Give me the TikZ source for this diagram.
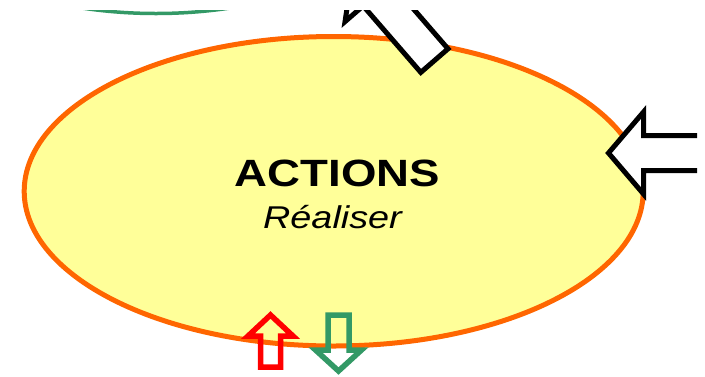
\documentclass[tikz,border=0pt]{standalone}
\usepackage{fontspec}
\setmainfont{Liberation Sans}
\definecolor{cyclefill}{HTML}{FFFF99}
\definecolor{cycleline}{HTML}{FF6600}
\definecolor{arrowred}{HTML}{FF0000}
\definecolor{arrowgreen}{HTML}{339966}
\begin{document}
\begin{tikzpicture}[x=1pt,y=-1pt,
  stage/.style={fill=cyclefill, draw=cycleline, line width=5pt},
  otherstage/.style={draw=arrowgreen, line width=3.5pt},
  blockarrow/.style={draw=black, fill=white, line width=5pt, line join=miter},
  inarrow/.style={draw=arrowred, line width=5.5pt, line join=miter},
  outarrow/.style={draw=arrowgreen, line width=5.5pt, line join=miter},
  title/.style={anchor=base, inner sep=0pt, font=\bfseries\fontsize{38}{40}\selectfont},
  subtitle/.style={anchor=base, inner sep=0pt, font=\itshape\fontsize{31.5}{34}\selectfont}]
\useasboundingbox (0,0) rectangle (705,376);
\begin{scope}
\clip (0,10) rectangle (697,376);
% neighbouring stage, only its lower rim shows
\draw[otherstage] (156,-141.5) ellipse [x radius=280pt, y radius=155pt];
% the ACTIONS stage
\draw[stage] (333.7,191.25) ellipse [x radius=309.5pt, y radius=154.75pt];
% arrow leaving towards the upper left
\begin{scope}[shift={(434.4,60.6)}, rotate=130.9]
\draw[blockarrow] (0,-18) -- (88,-18) -- (88,-42) -- (124,0) -- (88,42) -- (88,18) -- (0,18) -- cycle;
\end{scope}
% arrow coming in from the right
\draw[blockarrow] (720,135.5) -- (643.5,135.5) -- (643.5,112) -- (608.5,153)
  -- (643.5,194) -- (643.5,170.5) -- (720,170.5);
% small arrows at the bottom
\draw[inarrow] (260.5,367) -- (260.5,336) -- (248,336) -- (270.5,315)
  -- (293,336) -- (280.5,336) -- (280.5,367) -- cycle;
\draw[outarrow] (328,315) -- (328,350) -- (315.5,350) -- (338.5,371)
  -- (361.5,350) -- (349,350) -- (349,315) -- cycle;
\end{scope}
\node[title] (name) at (337.5,186.5) {\scalebox{1.2}[1]{ACTIONS}};
\node[subtitle] (verb) at (332.5,228) {\scalebox{1.2}[1]{Réaliser}};
\end{tikzpicture}
\end{document}
